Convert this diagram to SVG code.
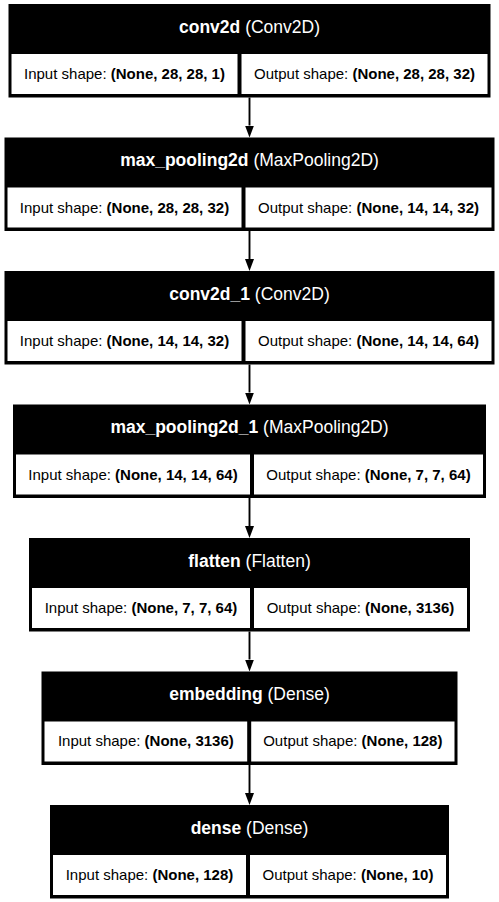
<svg xmlns="http://www.w3.org/2000/svg" width="499" height="902" viewBox="0 0 499 902">
<style>
.box{fill:#000}
.cell{fill:#fff}
.hd{font-family:"Liberation Sans",Arial,sans-serif;font-size:17.5px;fill:#fff;text-anchor:middle}
.ct{font-family:"Liberation Sans",Arial,sans-serif;font-size:15px;fill:#000;text-anchor:middle}
.b{font-weight:bold}
.edge{stroke:#000;stroke-width:1.9;fill:none}
</style>
<defs>
<marker id="ah" markerUnits="userSpaceOnUse" markerWidth="13" markerHeight="10" refX="0" refY="4.5" orient="auto">
<path d="M0,0 L12,4.5 L0,9 z" fill="#000"/>
</marker>
</defs>
<rect width="499" height="902" fill="#fff"/>
<g id="edges">
<line class="edge" x1="249.5" y1="97.5" x2="249.5" y2="125.5" marker-end="url(#ah)"/>
<line class="edge" x1="249.5" y1="231" x2="249.5" y2="259" marker-end="url(#ah)"/>
<line class="edge" x1="249.5" y1="364.5" x2="249.5" y2="392.5" marker-end="url(#ah)"/>
<line class="edge" x1="249.5" y1="498" x2="249.5" y2="526" marker-end="url(#ah)"/>
<line class="edge" x1="249.5" y1="631.5" x2="249.5" y2="659.5" marker-end="url(#ah)"/>
<line class="edge" x1="249.5" y1="765" x2="249.5" y2="793" marker-end="url(#ah)"/>
</g>
<g id="conv2d">
<rect class="box" x="8.5" y="4" width="482" height="93.5"/>
<rect class="cell" x="11.5" y="54" width="226" height="40"/>
<rect class="cell" x="241.5" y="54" width="246" height="40"/>
<text class="hd" x="249.5" y="32.5"><tspan class="b">conv2d</tspan> (Conv2D)</text>
<text class="ct" x="124.5" y="79">Input shape: <tspan class="b">(None, 28, 28, 1)</tspan></text>
<text class="ct" x="364.5" y="79">Output shape: <tspan class="b">(None, 28, 28, 32)</tspan></text>
</g>
<g id="max_pooling2d">
<rect class="box" x="4.5" y="137.5" width="490" height="93.5"/>
<rect class="cell" x="7.5" y="187.5" width="234" height="40"/>
<rect class="cell" x="245.5" y="187.5" width="246" height="40"/>
<text class="hd" x="249.5" y="166"><tspan class="b">max_pooling2d</tspan> (MaxPooling2D)</text>
<text class="ct" x="124.5" y="212.5">Input shape: <tspan class="b">(None, 28, 28, 32)</tspan></text>
<text class="ct" x="368.5" y="212.5">Output shape: <tspan class="b">(None, 14, 14, 32)</tspan></text>
</g>
<g id="conv2d_1">
<rect class="box" x="4.5" y="271" width="490" height="93.5"/>
<rect class="cell" x="7.5" y="321" width="234" height="40"/>
<rect class="cell" x="245.5" y="321" width="246" height="40"/>
<text class="hd" x="249.5" y="299.5"><tspan class="b">conv2d_1</tspan> (Conv2D)</text>
<text class="ct" x="124.5" y="346">Input shape: <tspan class="b">(None, 14, 14, 32)</tspan></text>
<text class="ct" x="368.5" y="346">Output shape: <tspan class="b">(None, 14, 14, 64)</tspan></text>
</g>
<g id="max_pooling2d_1">
<rect class="box" x="13" y="404.5" width="473" height="93.5"/>
<rect class="cell" x="16" y="454.5" width="234" height="40"/>
<rect class="cell" x="254" y="454.5" width="229" height="40"/>
<text class="hd" x="249.5" y="433"><tspan class="b">max_pooling2d_1</tspan> (MaxPooling2D)</text>
<text class="ct" x="133" y="479.5">Input shape: <tspan class="b">(None, 14, 14, 64)</tspan></text>
<text class="ct" x="368.5" y="479.5">Output shape: <tspan class="b">(None, 7, 7, 64)</tspan></text>
</g>
<g id="flatten">
<rect class="box" x="29" y="538" width="441" height="93.5"/>
<rect class="cell" x="32" y="588" width="218" height="40"/>
<rect class="cell" x="254" y="588" width="213" height="40"/>
<text class="hd" x="249.5" y="566.5"><tspan class="b">flatten</tspan> (Flatten)</text>
<text class="ct" x="141" y="613">Input shape: <tspan class="b">(None, 7, 7, 64)</tspan></text>
<text class="ct" x="360.5" y="613">Output shape: <tspan class="b">(None, 3136)</tspan></text>
</g>
<g id="embedding">
<rect class="box" x="41.5" y="671.5" width="416" height="93.5"/>
<rect class="cell" x="44.5" y="721.5" width="202.7" height="40"/>
<rect class="cell" x="251.2" y="721.5" width="203.3" height="40"/>
<text class="hd" x="249.5" y="700"><tspan class="b">embedding</tspan> (Dense)</text>
<text class="ct" x="145.85" y="746">Input shape: <tspan class="b">(None, 3136)</tspan></text>
<text class="ct" x="352.85" y="746">Output shape: <tspan class="b">(None, 128)</tspan></text>
</g>
<g id="dense">
<rect class="box" x="50" y="805" width="399" height="93.5"/>
<rect class="cell" x="53" y="855" width="193" height="40"/>
<rect class="cell" x="250" y="855" width="196" height="40"/>
<text class="hd" x="249.5" y="833.5"><tspan class="b">dense</tspan> (Dense)</text>
<text class="ct" x="149.5" y="879.5">Input shape: <tspan class="b">(None, 128)</tspan></text>
<text class="ct" x="348" y="879.5">Output shape: <tspan class="b">(None, 10)</tspan></text>
</g>
</svg>
